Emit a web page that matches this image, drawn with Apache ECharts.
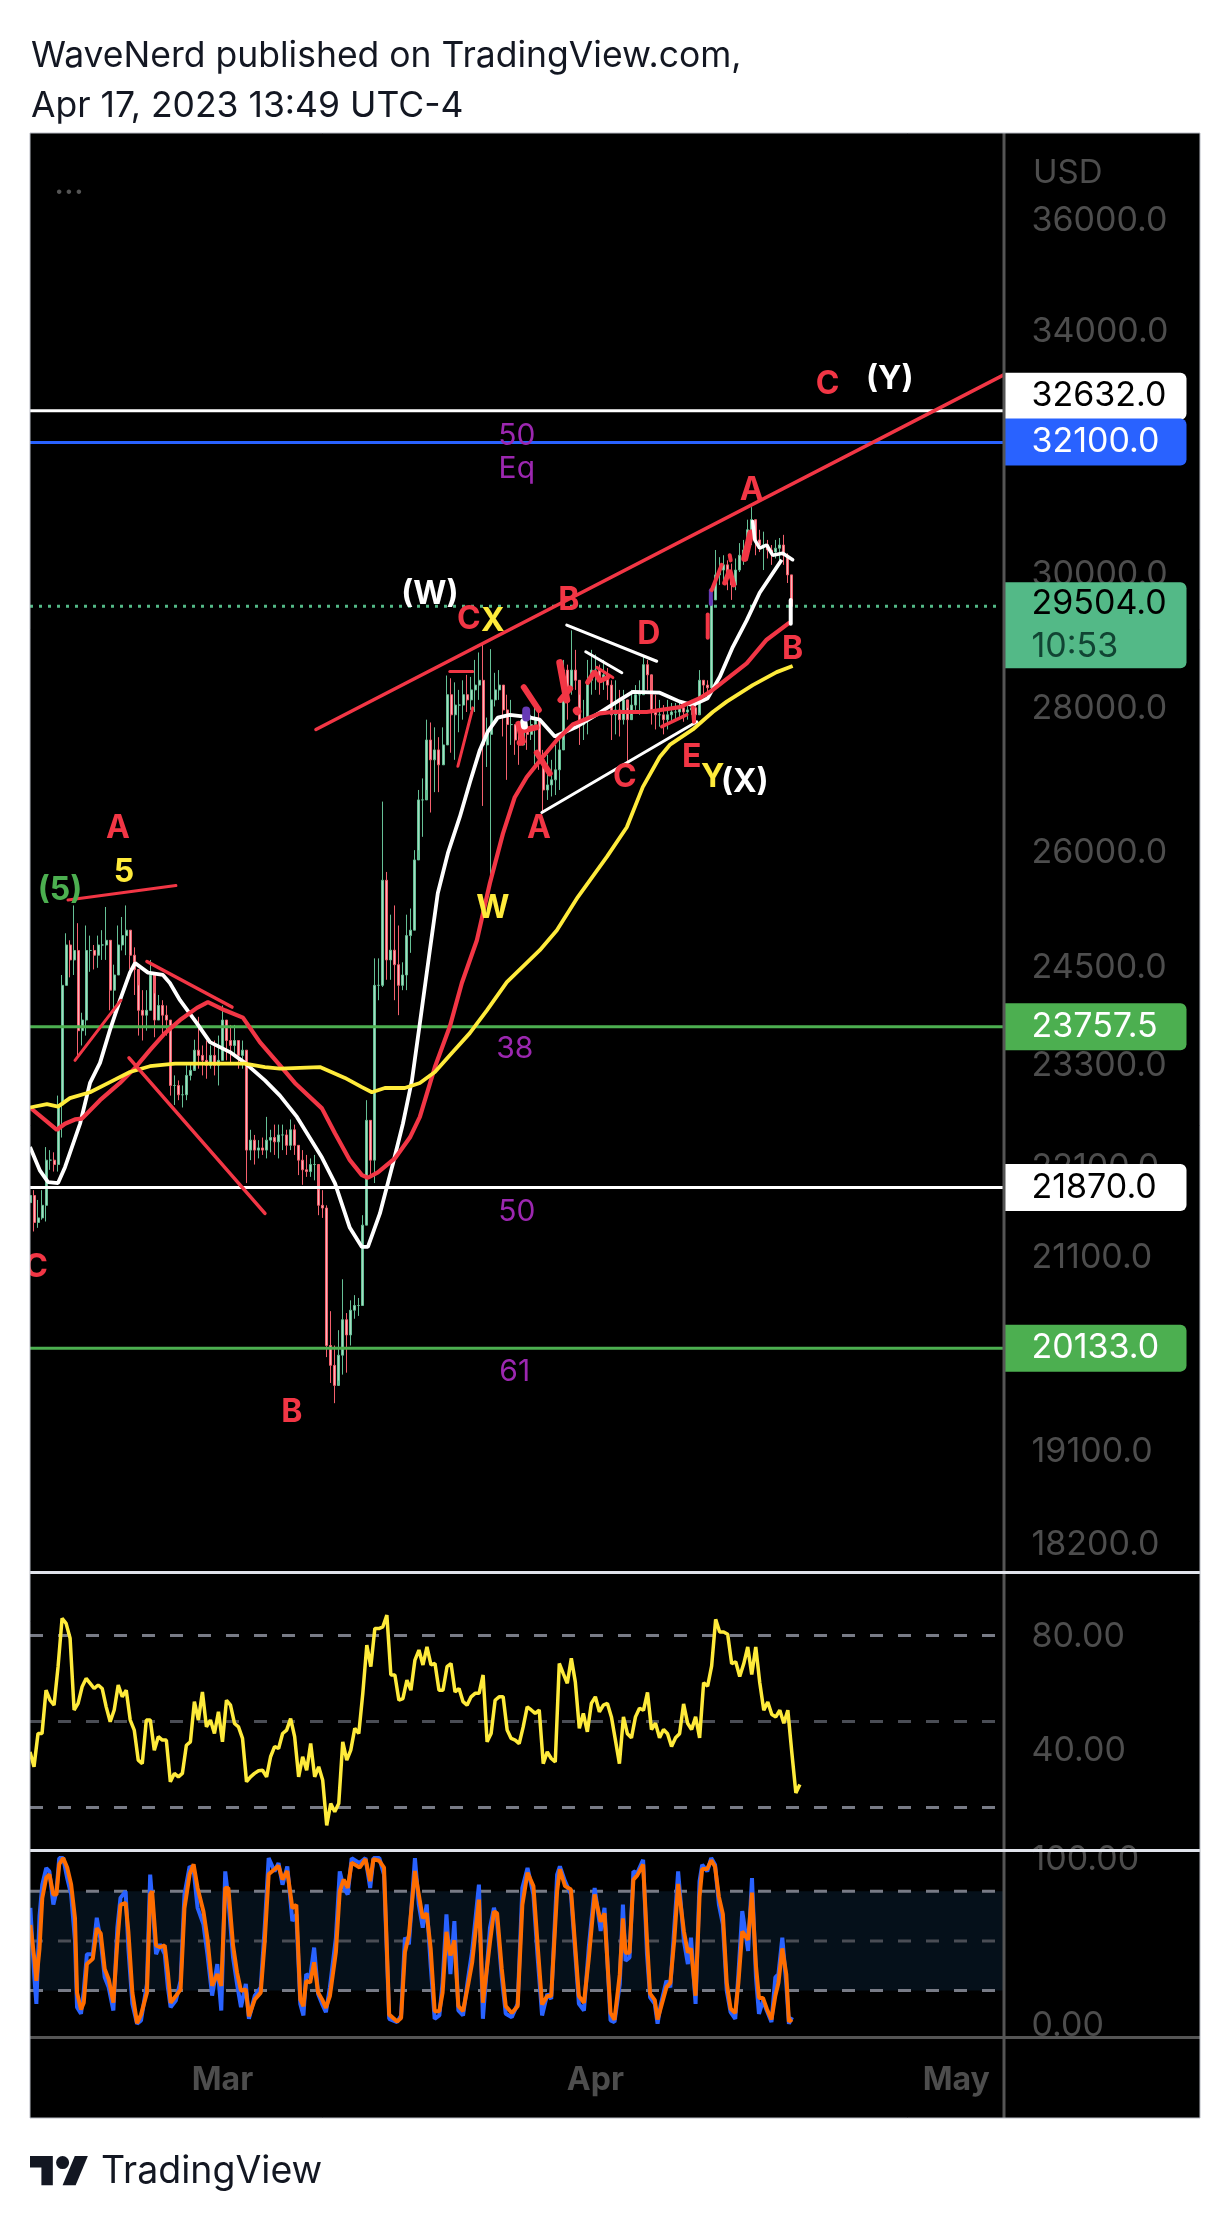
<!DOCTYPE html>
<html><head><meta charset="utf-8"><style>html,body{margin:0;padding:0;background:#fff}#c{width:1230px;height:2224px}</style>
<script src="https://cdn.jsdelivr.net/npm/echarts@6/dist/echarts.min.js"></script></head><body><div id="c"></div>
<script>
// 8-hour candles, from 13 Feb 2023
const highs=[21920,21840,21730,21840,22330,22295,22270,22930,24400,24930,24840,25290,25060,23930,25030,24900,24780,24900,24970,25270,24590,24530,25030,25140,25290,24900,24750,24270,24210,24210,24590,24170,24150,24085,24020,23840,23170,23110,23050,23290,23330,23600,23880,23530,23590,23530,23590,23650,24020,23840,23780,23780,23590,23590,23473,22530,22470,22410,22440,22680,22530,22590,22590,22590,22530,22650,22590,22350,22295,22240,22200,22240,21840,21840,21670,20520,20160,20320,20860,20500,20635,20690,20660,21560,22876,22640,24610,24610,26680,25730,25170,25290,25030,24560,25170,25250,26021,26840,27000,27830,27790,27720,27580,27720,28470,28430,28370,28260,28400,28480,28450,28700,28810,28940,27860,28860,28510,28550,28300,28190,28115,27760,27690,27900,27830,27900,28040,27970,27400,27330,27260,27470,27540,28700,28630,29140,28849,28190,28115,28700,28849,28780,28630,28700,28580,28400,28400,28260,28260,28000,28260,28330,28400,28750,28700,28190,28190,28115,28040,28115,28070,28070,28115,28070,28040,28115,28085,28550,28400,28400,29650,30372,30260,30290,30210,30160,30240,30480,30530,30850,31050,30850,30690,30660,30530,30450,30530,30560,30610,30320,29985];
const lows=[21560,21380,21420,21510,21490,22070,22050,22050,22440,24270,24370,24400,23390,23530,23650,24440,24470,24490,24590,24590,23960,23930,24530,24710,24650,24470,24150,23650,23590,23710,23960,23630,23840,23650,23650,22930,22820,22876,22790,22876,23110,23250,23250,23170,23130,23250,23170,23050,23350,23350,23310,23410,23250,23250,21920,22180,22130,22200,22240,22200,22270,22240,22200,22295,22240,22295,22240,22010,21900,21990,21990,21950,21560,21530,20040,19775,19570,19800,19860,19880,20160,20440,20470,20580,21450,21990,21920,24085,24250,24340,24340,24085,23900,24210,24210,24680,24970,26021,26200,26840,26530,26810,26810,27260,27470,27360,27260,27650,27830,27940,27970,27940,28115,26620,27160,25620,28020,28115,27590,26980,27470,27330,27190,27470,27400,27540,27190,27120,26530,26703,26750,26770,26840,27540,27830,28190,28260,27470,27540,27620,28190,28260,28190,28260,28115,27540,27620,27590,27760,27190,27900,27970,27900,28260,28260,27760,27690,27730,27620,27690,27800,27830,27860,27800,27830,27900,27760,27930,28190,28230,28260,29601,29830,29860,29750,29601,29750,30030,30140,30210,30450,30290,30340,30060,30240,30140,30240,30210,30140,29860,29504];
const closes=[21780,21480,21530,21670,22180,22180,22130,22820,24270,24780,24590,24710,23710,23840,24710,24710,24650,24780,24780,24840,24210,24400,24780,24900,24970,24650,24470,23960,23900,23960,24400,23840,24020,23900,23840,23050,23050,22940,22940,23170,23230,23473,23410,23350,23290,23410,23290,23350,23840,23590,23530,23590,23410,23473,22295,22410,22295,22320,22295,22410,22440,22390,22470,22470,22350,22530,22350,22180,22070,22050,22130,22130,21670,21640,20160,19955,19750,20060,20430,20270,20530,20580,20580,21450,22640,22180,24270,24270,25620,24590,24714,24530,24270,24400,24900,24970,25890,26703,26703,27540,27260,27400,27190,27470,28190,27900,28040,28040,28190,28115,28260,28330,28400,27470,27620,28115,28260,28330,27970,27760,27760,27540,27470,27690,27620,27760,27830,27260,26840,26910,26980,27120,27400,28550,28260,28550,28400,27760,27830,28400,28550,28550,28400,28480,28330,27900,27970,27830,28115,27830,28040,28190,28190,28630,28480,27970,27900,27900,27830,27900,27940,27940,28000,27940,27970,28000,27900,28400,28330,28290,29601,29985,30060,30140,29985,29830,30060,30290,30372,30690,30850,30530,30450,30450,30372,30340,30400,30450,30290,29985,29504];
const firstOpen=21700;
// moving averages: [days after 13 Feb, price]
const whiteMa=[[0,22330],[.83,22060],[1.5,21930],[2.33,21920],[2.91,22100],[4.16,22600],[4.99,23080],[5.82,23320],[6.65,23720],[7.48,24085],[8.31,24430],[8.73,24550],[9.81,24430],[11.05,24400],[11.63,24300],[12.47,24085],[13.88,23800],[14.96,23570],[16.62,23450],[17.87,23320],[19.53,23110],[20.78,22930],[22.19,22680],[24.27,22210],[25.35,21920],[26.59,21420],[27.59,21210],[28.09,21210],[29.09,21580],[30.17,22140],[31,22600],[31.75,23110],[32.41,23800],[33.24,24714],[33.9,25450],[34.74,25980],[35.73,26470],[36.56,26940],[37.4,27400],[38.06,27660],[38.89,27860],[39.89,27900],[41.3,27870],[42.38,27830],[43.63,27590],[45.46,27730],[47.37,27930],[49.03,28115],[50.11,28230],[52.35,28220],[54.02,28090],[55.1,28040],[56.34,28140],[57.34,28450],[58.42,28890],[59.58,29290],[60.66,29710],[62.49,30220]];
const redMa=[[0,22790],[2.24,22530],[2.91,22600],[3.74,22650],[4.32,22660],[5.82,22876],[7.48,23080],[8.73,23260],[9.97,23473],[11.22,23680],[12.47,23840],[13.88,23990],[14.79,24060],[16.2,23960],[17.7,23870],[19.11,23570],[20.78,23290],[22.02,23080],[24.27,22780],[25.35,22490],[26.59,22180],[27.59,22010],[28.09,21980],[28.92,22040],[30.33,22200],[31.58,22440],[32.41,22680],[33.66,23270],[34.9,23760],[35.9,24300],[37.15,24840],[38.23,25580],[39.31,26240],[40.3,26740],[41.3,27020],[42.63,27300],[43.8,27540],[45.12,27760],[47.37,27920],[48.45,27940],[51.27,27940],[54.02,28010],[55.68,28140],[56.76,28260],[59.58,28650],[61.24,29000],[63.16,29260]];
const yellowMa=[[0,22790],[1.41,22830],[2.33,22800],[3.32,22900],[4.99,22970],[6.65,23090],[8.31,23210],[9.97,23280],[12.05,23310],[14.96,23310],[17.87,23310],[19.53,23270],[20.78,23250],[24.1,23270],[26.18,23140],[27.59,23030],[28.42,22970],[29.5,23020],[31.16,23020],[32.41,23080],[33.66,23210],[35.07,23440],[36.56,23680],[37.98,23960],[39.64,24310],[42.38,24714],[43.8,24970],[45.54,25400],[47.95,25930],[49.61,26330],[50.94,26880],[52.35,27300],[53.18,27470],[55.1,27690],[56.76,27940],[57.92,28090],[60.08,28330],[62.07,28520],[63.4,28610]];
// RSI at 8-hour steps
const rsi=[39.4,34.2,45.8,45.8,60.9,57.4,55.7,69.1,85.9,84.2,79,54,56.3,62.1,65,63.3,61.5,62.7,61.5,55.1,49.9,54,62.7,58.6,60.9,50.5,47,36.5,35.3,50.5,50.5,40,44.7,43.5,43.5,29,31.9,30.7,31.9,41.7,42.9,56.9,50.5,60.3,48.1,50.5,45.8,53.4,42.9,57.4,55.7,49.3,48.1,44.1,29,30.7,31.9,32.8,33,30.7,37.7,41.2,40.6,45.8,47,51,44.7,30.7,37.7,33,42.3,30.7,34.2,29.5,13.8,21.4,18.5,21.4,42.9,36.5,40,47.6,45.8,59.8,76.6,69.1,82.4,82.4,83,87.1,66.2,66.2,57.4,58,64.4,60.9,71.4,74.9,69.7,76,69.7,70.2,60.9,60.9,69.1,70.2,60.3,61.5,56.9,55.7,58.6,59.8,59.8,66.2,42.9,45.8,57.4,58.6,58.6,47,44.1,43.5,42.3,48.1,55.1,54,52.8,54,35.3,39.4,37.1,35.9,70.2,66.7,63.3,72,63.8,47.6,52.8,46.4,56.3,58.6,53.4,55.7,56.3,51.6,43.5,35.3,51.6,45.7,44.3,51.6,54.6,53.9,60.1,47.2,49.4,44.3,47.2,45.7,41.3,44.3,45.7,56.1,49.4,47.2,51.6,44.3,63.5,62.3,69.4,85.6,81.2,81.2,80.4,70.1,70.8,65.7,70.1,76,66.4,76,63.5,53.9,56.8,52.4,51.6,53.9,49.4,53.9,39.1,25.1,28];
// Stochastic: days after 13 Feb, %D (orange), %K (blue)
const stochDays=[.03,.36,.53,.79,1.02,1.35,1.61,1.94,2.2,2.43,2.76,3.09,3.42,3.74,3.91,4.24,4.47,4.73,5.22,5.55,5.88,6.21,6.54,6.93,7.26,7.52,7.95,8.18,8.51,8.9,9.23,9.72,9.99,10.15,10.48,10.81,11.2,11.46,11.69,12.12,12.52,12.84,13.27,13.6,13.93,14.42,14.75,15.14,15.57,15.9,16.23,16.49,16.88,17.21,17.54,17.94,18.2,18.69,19.18,19.51,19.84,20.33,20.66,20.99,21.39,21.81,22.14,22.47,22.73,22.96,23.29,23.62,23.95,24.28,24.6,24.93,25.43,25.75,26.08,26.41,26.74,27.4,27.89,28.28,28.55,29.04,29.43,29.86,30.52,30.85,31.17,31.5,32,32.32,32.65,32.98,33.31,33.64,34.03,34.3,34.62,34.95,35.28,35.61,36,36.43,36.76,37.32,37.65,38.24,38.57,38.83,39.22,39.55,40.05,40.54,40.93,41.36,41.85,42.18,42.57,43,43.33,43.82,44.05,44.48,44.97,45.63,46.05,46.45,46.94,47.44,47.76,48.26,48.59,49.03,49.29,49.51,49.84,50.16,50.48,50.97,51.29,51.55,51.94,52.17,52.42,52.91,53.23,53.56,53.88,54.36,54.69,54.95,55.33,55.66,55.88,56.3,56.63,56.95,57.27,57.6,57.92,58.24,58.63,58.89,59.21,59.7,60.02,60.35,60.6,60.93,61.25,61.64,61.96,62.22,62.54,62.87,63.09,63.35];
const stochD=[59.6,39.2,25.9,45.3,75.9,88.2,90.2,78,78,96.3,100,94.3,84.1,63.7,18.8,8.6,12.7,36.1,39.2,57.6,54.5,33.1,26.9,12.7,49.4,71.8,72.9,55.5,18.8,.4,5.5,18.8,78,80,47.3,46.3,47.3,31,12.7,16.7,20.8,69.8,90.2,96.3,82,67.8,51.4,22.9,30,22.9,82,82,47.3,31,19.8,20.8,4.5,14.7,18.8,49.4,90.2,93.3,95.3,87.1,92.2,69.8,71.8,14.7,10.6,25.9,24.9,37.1,18.8,14.7,9.6,16.7,43.3,80,87.1,82,97.3,94.3,99.4,86.1,99.4,98.4,94.3,5.5,1.4,3.5,43.3,53.5,92.2,78,63.7,66.7,45.3,7.6,7.6,18.8,55.5,41.2,50.4,10.6,7.6,23.9,37.1,74.9,12.7,49.4,67.8,66.7,33.1,10.6,6.5,10.6,71.8,91.2,83.1,49.4,11.6,16.7,16.7,80,93.3,83.1,81,16.7,12.7,39.2,78,61.6,66.7,6.5,2.4,29.9,63.6,42.9,42.9,87,89.6,96.1,50.6,18.2,14.3,2.6,9.1,22.1,24.7,50.6,84.4,55.8,42.9,45.5,16.9,76.6,93.5,93.5,98.7,94.8,76.6,66.2,24.7,9.1,6.5,24.7,55.8,50.6,79.2,35.1,15.6,15.6,9.1,2.6,16.9,24.7,45.5,29.9,1.3,2.6];
const stochK=[70,28,12,65,84,94,92,72,80,100,100,88,78,50,10,6,20,42,42,64,50,28,22,8,58,76,80,45,12,0,2,24,90,75,42,48,42,22,10,14,26,78,95,93,70,60,42,17,36,8,92,75,40,24,10,24,3,17,22,58,100,92,97,84,95,62,66,12,5,30,28,46,18,12,7,22,52,92,82,78,100,97,100,82,100,100,90,3,1,5,52,48,100,72,58,72,35,3,5,25,66,30,62,8,5,28,44,84,3,58,70,62,28,6,4,12,82,94,78,42,5,18,15,90,95,86,78,12,8,46,82,56,70,2,1,24,72,38,40,92,91,99,42,16,12,0,11,26,22,58,92,50,36,52,12,86,96,92,100,96,72,60,20,7,3,30,68,44,88,28,6,14,8,1,28,30,52,24,0,4];
// price levels and axis ticks
const priceTicks=[36000,34000,30000,28000,26000,24500,23300,22100,21100,19100,18200];
const whiteLevels=[32632,21870], blueLevels=[32100], greenLevels=[23757.5,20133];
const lastPrice=29504;
const monthTicks=[16,47,77], monthNames=["Mar","Apr","May"];
const rsiLevels=[80,50,20], rsiTicks=[80,40], stochLevels=[80,50,20], stochTicks=[100,0];
// drawings on the chart: colour, width, [days, price] points
const RED='#f23645',WHT='#ffffff',PUR='#673ab7';
const drawings=[
 [RED,3.5,[[23.77,27690],[80.95,33240]]],
 [RED,3,[[3.16,25360],[12.13,25550]]],
 [RED,3,[[3.74,23350],[7.56,24085]]],
 [RED,3.5,[[9.72,24570],[16.79,24000]]],
 [RED,3.5,[[8.23,23380],[19.53,21580]]],
 [RED,3,[[34.9,28530],[36.8,28530]]],
 [RED,3,[[35.57,27170],[36.81,28000]]],
 [RED,6,[[41.05,28300],[42.3,27970]]],
 [RED,6,[[42.13,27360],[43.21,27070]]],
 [RED,6,[[40.6,27770],[41,27500],[40.7,27500]]],
 [RED,6,[[41.1,27680],[42.1,27720]]],
 [WHT,7,[[41.05,27800],[41.1,27740]]],
 [PUR,8,[[41.25,27960],[41.25,27860]]],
 [WHT,3,[[42.55,26530],[55.43,27800]]],
 [WHT,3,[[44.62,29220],[52.1,28680]]],
 [WHT,3,[[46.2,28820],[49.2,28510]]],
 [RED,3,[[47.12,28590],[48.45,28440]]],
 [RED,5,[[46.36,28370],[46.94,28530],[47.37,28390],[48,28440]]],
 [RED,7,[[44.04,28660],[44.62,28115]]],
 [RED,6,[[44.1,28115],[44.9,28280]]],
 [RED,8,[[45.46,27960],[45.5,27950]]],
 [RED,3.5,[[52.52,27730],[54.6,27900]]],
 [RED,4,[[55.1,28010],[55.2,27800]]],
 [RED,4,[[56.34,29380],[56.34,29030]]],
 [PUR,4,[[56.6,29750],[56.6,29540]]],
 [RED,4,[[56.67,29750],[57.5,30140]]],
 [RED,5,[[57.75,29860],[58.17,30060],[58.5,29830]]],
 [RED,4,[[58.17,30290],[58.25,30210]]],
 [RED,7,[[59.42,30240],[59.92,30640]]],
 [WHT,3.5,[[60.08,30820],[60.25,30530],[60.66,30400],[61.24,30450],[61.74,30290],[62.57,30320],[63.4,30220]]],
 [WHT,4,[[63.24,29601],[63.24,29240]]]
];
// wave labels: days, price, text, colour
const YEL='#ffeb3b',GRN='#4caf50';
const waveLabels=[[7.31,26320,'A',RED],[7.81,25720,'5',YEL],[2.49,25490,'(5)',GRN],[.5,20990,'C',RED],[33.24,29680,'(W)',WHT],[36.48,29310,'C',RED],[38.47,29280,'X',YEL],[44.79,29601,'B',RED],[51.44,29080,'D',RED],[42.3,26310,'A',RED],[49.44,27020,'C',RED],[55,27300,'E',RED],[56.76,27020,'Y',YEL],[59.42,26940,'(X)',WHT],[60,31320,'A',RED],[63.4,28860,'B',RED],[38.47,25255,'W',YEL],[21.77,19480,'B',RED],[66.31,33070,'C',RED],[71.47,33170,'(Y)',WHT]];
const fibLabels=[[40.47,32210,'50'],[40.47,31670,'Eq'],[40.3,23486,'38'],[40.47,21600,'50'],[40.3,19890,'61']];

const DAY=864e5, base=Date.UTC(2023,1,13), xMin=base, xMax=base+80.97*DAY;
const T=d=>base+d*DAY;
const FONT='Inter';
let prev=firstOpen;
const candles=closes.map((c,i)=>{const r=[base+i*DAY/3,prev,c,lows[i],highs[i]];prev=c;return r;});
const series=[];
const GHOST={color:'transparent',opacity:1};
const line=(name,data,color,width,extra,xi)=>series.push(Object.assign({name,type:'line',data,showSymbol:false,symbol:'none',silent:true,animation:false,lineStyle:{color,width},xAxisIndex:xi||0,yAxisIndex:xi||0,z:4},extra||{}));
const levelLine=(p,c,w,extra)=>line('level',[[xMin,p],[xMax,p]],c,w,extra);
whiteLevels.forEach(p=>levelLine(p,'#ffffff',3));
blueLevels.forEach(p=>levelLine(p,'#2962ff',3));
greenLevels.forEach(p=>levelLine(p,'#4caf50',3));
series.push({type:'candlestick',data:candles.map(c=>[c[0],c[1],c[2],c[3],c[4]]),barWidth:2.5,silent:true,animation:false,z:3,
  itemStyle:{color:'#a5dcc2',color0:'#f8b4ba',borderColor:'#66c096',borderColor0:'#f4606d',borderWidth:1}});
levelLine(lastPrice,'#53b987',3,{lineStyle:{color:'#53b987',width:3,type:[3,6]},data:[[xMin,lastPrice],[T(80.4),lastPrice]]});
const toT=a=>a.map(p=>[T(p[0]),p[1]]);
line('white',toT(whiteMa),'#ffffff',3.8);
line('red',toT(redMa),RED,4.2);
line('yellow',toT(yellowMa),YEL,3.8);
drawings.forEach(d=>line('draw',toT(d[2]),d[0],d[1],{z:5,lineStyle:{color:d[0],width:d[1],cap:'round'}}));
// wave + fib labels
series.push({type:'scatter',symbolSize:1,itemStyle:GHOST,silent:true,animation:false,clip:false,z:6,
  data:waveLabels.map(l=>({value:[T(l[0]),l[1]],label:{formatter:l[2],color:l[3]}})),
  label:{show:true,position:'inside',fontFamily:FONT,fontWeight:700,fontSize:32}});
series.push({type:'scatter',symbolSize:1,itemStyle:GHOST,silent:true,animation:false,clip:false,z:6,
  data:fibLabels.map(l=>({value:[T(l[0]),l[1]],label:{formatter:l[2]}})),
  label:{show:true,position:'inside',fontFamily:FONT,fontSize:30,color:'#9c27b0'}});
// right scale
const axisLabelSeries=(data,fmt,xi,dy)=>series.push({type:'scatter',xAxisIndex:xi,yAxisIndex:xi,symbolSize:1,itemStyle:GHOST,silent:true,animation:false,clip:false,z:7,
  data:data.map(v=>[xMax,v]),label:{show:true,position:'right',distance:27,offset:[0,dy],fontFamily:FONT,fontSize:34,color:'#4d4d4d',formatter:p=>fmt(p.value[1])}});
axisLabelSeries(priceTicks,v=>v.toFixed(1),0,1);
axisLabelSeries(rsiTicks,v=>v.toFixed(2),1,1);
axisLabelSeries(stochTicks,v=>v.toFixed(2),2,2);
const box=(p,text,bg,color,dy,h)=>({value:[xMax,p],label:{formatter:text,backgroundColor:bg,color,offset:[0,dy||0],height:h||47,lineHeight:h||47}});
const boxes=[box(32632,'32632.0','#ffffff','#000000',-14.5),box(32100,'32100.0','#2962ff','#ffffff',-.5),
  box(23757.5,'23757.5','#4caf50','#ffffff',0),box(21870,'21870.0','#ffffff','#000000',0),box(20133,'20133.0','#4caf50','#ffffff',0)];
const lastBox={value:[xMax,lastPrice],label:{formatter:'{a|29504.0}\n{b|10:53}',backgroundColor:'#53b987',offset:[0,19],rich:{a:{color:'#000',fontFamily:FONT,fontSize:34,lineHeight:43},b:{color:'#143',fontFamily:FONT,fontSize:34,lineHeight:43}}}};
series.push({type:'scatter',symbolSize:1,itemStyle:GHOST,silent:true,animation:false,clip:false,z:8,data:boxes.concat([lastBox]),
  label:{show:true,position:'right',distance:0,fontFamily:FONT,fontSize:34,width:155,padding:[0,0,0,27],borderRadius:[0,6,6,0]}});
// RSI
rsiLevels.forEach(v=>line('rsiLevel',[[xMin,v],[xMax,v]],v===50?'#4a4d55':'#787b86',3,{lineStyle:{color:v===50?'#4a4d55':'#787b86',width:3,type:[13,15]}},1));
line('rsi',rsi.map((v,i)=>[base+i*DAY/3,v]),YEL,3.5,{z:5},1);
// Stochastic
line('band',[[xMin,20],[xMax,20]],'transparent',0,{z:1,markArea:{silent:true,itemStyle:{color:'#05101a'},data:[[{yAxis:80},{yAxis:20}]]}},2);
stochLevels.forEach(v=>line('stLevel',[[xMin,v],[xMax,v]],v===50?'#4a4d55':'#787b86',3,{z:2,lineStyle:{color:v===50?'#4a4d55':'#787b86',width:3,type:[13,15]}},2));
line('k',stochDays.map((d,i)=>[T(d),stochK[i]]),'#2962ff',4,{},2);
line('d',stochDays.map((d,i)=>[T(d),stochD[i]]),'#ff6d00',4,{z:5},2);
// month labels under the lower pane
series.push({type:'scatter',xAxisIndex:2,yAxisIndex:2,symbolSize:1,itemStyle:GHOST,silent:true,animation:false,clip:false,z:7,
  data:monthTicks.map((d,i)=>({value:[T(d),-8],label:{formatter:monthNames[i]}})),
  label:{show:true,position:'inside',offset:[0,43],fontFamily:FONT,fontWeight:700,fontSize:32,color:'#4d4d4d'}});

const xa=(i)=>({type:'time',gridIndex:i,min:xMin,max:xMax,axisLine:{show:false},axisTick:{show:false},splitLine:{show:false},axisLabel:{show:false}});
const ya=(i,o)=>Object.assign({gridIndex:i,position:'right',axisLine:{show:false},axisTick:{show:false},axisLabel:{show:false},splitLine:{show:false},scale:true},o);
const rect=(x,y,w,h,fill,z)=>({type:'rect',shape:{x,y,width:w,height:h},style:{fill},z,silent:true});
const logoK=1.63, logoX=30, logoY=2149.5;
const logoPts=pts=>pts.map(p=>[logoX+p[0]*logoK,logoY+p[1]*logoK]);
const option={animation:false,backgroundColor:'#ffffff',
 grid:[{left:30,right:226,top:133,height:1439},{left:30,right:226,top:1572,height:278},{left:30,right:226,top:1850,height:187}],
 xAxis:[xa(0),xa(1),xa(2)],
 yAxis:[ya(0,{type:'log',logBase:Math.E,min:17940,max:37650}),ya(1,{type:'value',min:5.2,max:102.1}),ya(2,{type:'value',min:-8,max:104.9})],
 series,
 graphic:{elements:[
  rect(30,133,1170,1985,'#000000',-100),
  rect(0,120,30,2000,'#ffffff',200),
  rect(1002.5,133,3,1985,'#555555',50),
  rect(30,1571,1170,3,'#e0e3eb',60),
  rect(30,1849,1170,3,'#e0e3eb',60),
  rect(30,2036,1170,3,'#555555',60),
  {type:'rect',shape:{x:30,y:133,width:1170,height:1985},style:{fill:'none',stroke:'#b8bbc4',lineWidth:1},z:201,silent:true},
  {type:'text',x:69,y:184,style:{text:'...',fill:'#555555',font:'34px '+FONT,textAlign:'center',textVerticalAlign:'middle'},z:60,silent:true},
  {type:'text',x:1033,y:173,style:{text:'USD',fill:'#4d4d4d',font:'33px '+FONT,textVerticalAlign:'middle'},z:60,silent:true},
  {type:'text',x:31,y:56,style:{text:'WaveNerd published on TradingView.com,',fill:'#131722',font:'35.5px '+FONT,textVerticalAlign:'middle'},z:60,silent:true},
  {type:'text',x:31,y:106,style:{text:'Apr 17, 2023 13:49 UTC-4',fill:'#131722',font:'35.5px '+FONT,textVerticalAlign:'middle'},z:60,silent:true},
  {type:'polygon',shape:{points:logoPts([[14,22],[7,22],[7,11],[0,11],[0,4],[14,4]])},style:{fill:'#131722'},z:60,silent:true},
  {type:'polygon',shape:{points:logoPts([[28,22],[20,22],[27.5,4],[35.5,4]])},style:{fill:'#131722'},z:60,silent:true},
  {type:'circle',shape:{cx:logoX+20*logoK,cy:logoY+8*logoK,r:4*logoK},style:{fill:'#131722'},z:60,silent:true},
  {type:'text',x:101,y:2172,style:{text:'TradingView',fill:'#131722',font:'37.5px '+FONT,textVerticalAlign:'middle'},z:60,silent:true}
 ]}
};
echarts.init(document.getElementById('c'),null,{renderer:'canvas'}).setOption(option);
</script></body></html>
